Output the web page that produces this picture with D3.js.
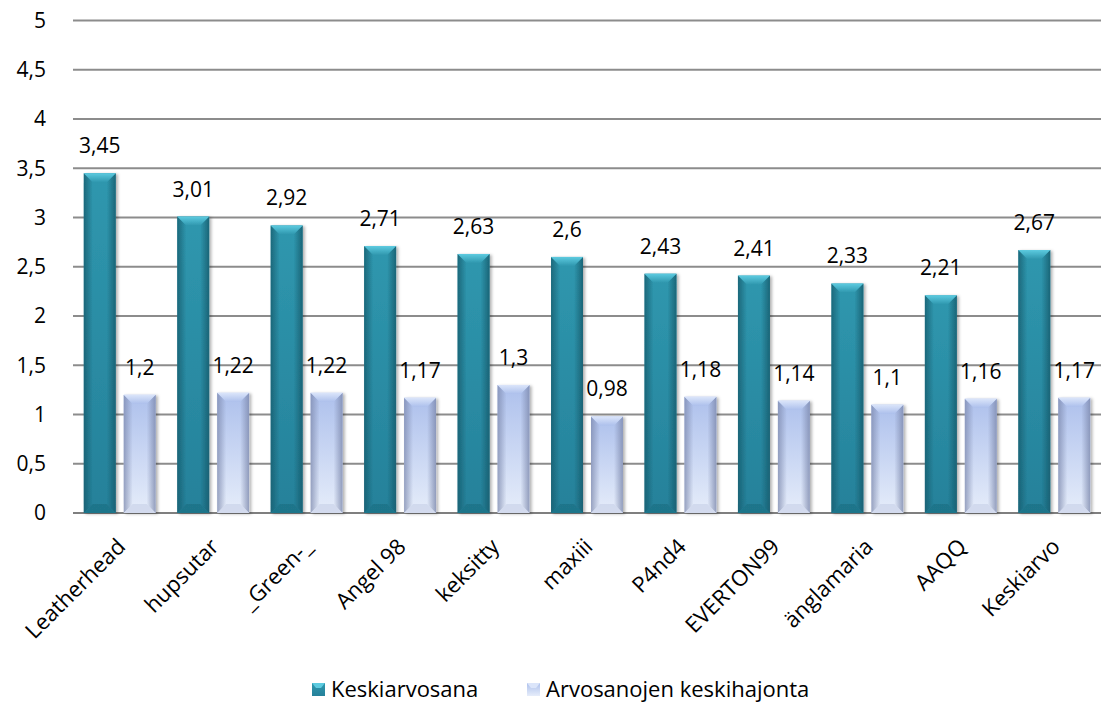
<!DOCTYPE html>
<html>
<head>
<meta charset="utf-8">
<script src="https://cdn.jsdelivr.net/npm/d3@7"></script>
<style>
  body { margin: 0; background: #fff; }
  svg text { font-family: "Open Sans", Lato, sans-serif; fill: #000; }
</style>
</head>
<body>
<svg id="chart" width="1108" height="704"></svg>
<script>
// data
var categories = ["Leatherhead", "hupsutar", "_Green-_", "Angel 98", "keksitty", "maxiii",
                  "P4nd4", "EVERTON99", "änglamaria", "AAQQ", "Keskiarvo"]
var series = ["Keskiarvosana", "Arvosanojen keskihajonta"]
var keskiarvosana = [3.45, 3.01, 2.92, 2.71, 2.63, 2.6, 2.43, 2.41, 2.33, 2.21, 2.67]
var keskihajonta = [1.2, 1.22, 1.22, 1.17, 1.3, 0.98, 1.18, 1.14, 1.1, 1.16, 1.17]
var yTicks = [0, 0.5, 1, 1.5, 2, 2.5, 3, 3.5, 4, 4.5, 5]

var values = [keskiarvosana, keskihajonta]
var fmt = v => String(v).replace(".", ",")   // finnish decimal comma

var svg = d3.select("#chart")
var m = {left: 73, right: 1101, top: 20.5, bottom: 513}

var x0 = d3.scaleBand().domain(categories).range([m.left, m.right]).padding(0)
var x1 = d3.scaleBand().domain(series).range([0, x0.bandwidth()])
    .paddingInner(0.2).paddingOuter(0.27)
var y = d3.scaleLinear().domain([0, 5]).range([m.bottom, m.top])

/// gradients for the bevelled bars
var defs = svg.append("defs")
var looks = [
    {body: ["#2f97ae", "#25819a"], topc: "#5dcbe0", side: "#16596a", bot: "#1d6c80"},
    {body: ["#adc0ec", "#e6edfa"], topc: "#dbe5fa", side: "#7d89ad", bot: "#c6cfe6"}
]
looks.forEach(function(l, i) {
    var g = defs.append("linearGradient").attr("id", "body" + i)
        .attr("x1", 0).attr("y1", 0).attr("x2", 0).attr("y2", 1)
    g.append("stop").attr("offset", "0%").attr("stop-color", l.body[0])
    g.append("stop").attr("offset", "100%").attr("stop-color", l.body[1])
    var sl = defs.append("linearGradient").attr("id", "sideL" + i)
        .attr("x1", 0).attr("y1", 0).attr("x2", 1).attr("y2", 0)
    sl.append("stop").attr("offset", "0%").attr("stop-color", l.side).attr("stop-opacity", 0.75)
    sl.append("stop").attr("offset", "100%").attr("stop-color", l.side).attr("stop-opacity", 0)
    var sr = defs.append("linearGradient").attr("id", "sideR" + i)
        .attr("x1", 1).attr("y1", 0).attr("x2", 0).attr("y2", 0)
    sr.append("stop").attr("offset", "0%").attr("stop-color", l.side).attr("stop-opacity", 0.8)
    sr.append("stop").attr("offset", "100%").attr("stop-color", l.side).attr("stop-opacity", 0)
    var tp = defs.append("linearGradient").attr("id", "top" + i)
        .attr("x1", 0).attr("y1", 0).attr("x2", 0).attr("y2", 1)
    tp.append("stop").attr("offset", "0%").attr("stop-color", l.topc)
    tp.append("stop").attr("offset", "100%").attr("stop-color", l.body[0])
})
var shadow = defs.append("filter").attr("id", "shadow")
    .attr("x", "-20%").attr("y", "-5%").attr("width", "150%").attr("height", "115%")
shadow.append("feDropShadow").attr("dx", 2).attr("dy", 1).attr("stdDeviation", 1.5)
    .attr("flood-color", "#000").attr("flood-opacity", 0.3)

/// gridlines
svg.append("g").selectAll("line").data(yTicks).enter().append("line")
    .attr("x1", m.left).attr("x2", m.right)
    .attr("y1", d => y(d)).attr("y2", d => y(d))
    .attr("stroke", d => d == 0 ? "#7f7f7f" : "#8c8c8c")
    .attr("stroke-width", 2)

/// y tick labels
svg.append("g").selectAll("text").data(yTicks).enter().append("text")
    .attr("x", 46).attr("y", d => y(d)).attr("dy", "0.35em")
    .attr("text-anchor", "end").attr("font-size", 21)
    .text(fmt)

/// bars
var bw = x1.bandwidth()
var groups = svg.append("g").selectAll("g").data(categories).enter().append("g")
    .attr("transform", d => "translate(" + x0(d) + ",0)")

series.forEach(function(s, si) {
    var bar = groups.append("g")
        .attr("transform", (d, i) => "translate(" + x1(s) + "," + y(values[si][i]) + ")")
        .attr("filter", "url(#shadow)")
    var hh = (d, i) => y(0) - y(values[si][i])
    var b = 9
    bar.append("rect").attr("width", bw).attr("height", hh).attr("fill", "url(#body" + si + ")")
    bar.append("path").attr("fill", "url(#sideL" + si + ")")
        .attr("d", (d, i) => { var h = hh(d, i); return "M0,0L" + b + "," + b + "L" + b + "," + (h - b) + "L0," + h + "Z" })
    bar.append("path").attr("fill", "url(#sideR" + si + ")")
        .attr("d", (d, i) => { var h = hh(d, i); return "M" + bw + ",0L" + (bw - b) + "," + b + "L" + (bw - b) + "," + (h - b) + "L" + bw + "," + h + "Z" })
    bar.append("path").attr("fill", "url(#top" + si + ")")
        .attr("d", "M0,0L" + bw + ",0L" + (bw - b) + "," + b + "L" + b + "," + b + "Z")
    bar.append("path").attr("fill", looks[si].bot).attr("opacity", 0.6)
        .attr("d", (d, i) => { var h = hh(d, i); return "M0," + h + "L" + bw + "," + h + "L" + (bw - b) + "," + (h - b) + "L" + b + "," + (h - b) + "Z" })

    /// data labels
    groups.append("text")
        .attr("x", x1(s) + bw / 2)
        .attr("y", (d, i) => y(values[si][i]) - 20)
        .attr("text-anchor", "middle").attr("font-size", 21)
        .text((d, i) => fmt(values[si][i]))
})

/// category labels, rotated
svg.append("g").selectAll("text").data(categories).enter().append("text")
    .attr("transform", d => "translate(" + (x0(d) + x0.bandwidth() / 2 + 7) + "," + (m.bottom + 35) + ") rotate(-45)")
    .attr("text-anchor", "end").attr("font-size", 22)
    .text(d => d)

/// legend
var legend = svg.append("g")
var lx = [312, 527]
series.forEach(function(s, si) {
    var g = legend.append("g").attr("transform", "translate(" + lx[si] + ",683)")
    g.append("rect").attr("width", 13).attr("height", 13).attr("fill", "url(#body" + si + ")")
    g.append("path").attr("fill", looks[si].topc).attr("d", "M0,0L13,0L9,5L4,5Z")
    g.append("text").attr("x", 19).attr("y", 6.5).attr("dy", "0.35em")
        .attr("font-size", 22).text(s)
})
</script>
</body>
</html>
